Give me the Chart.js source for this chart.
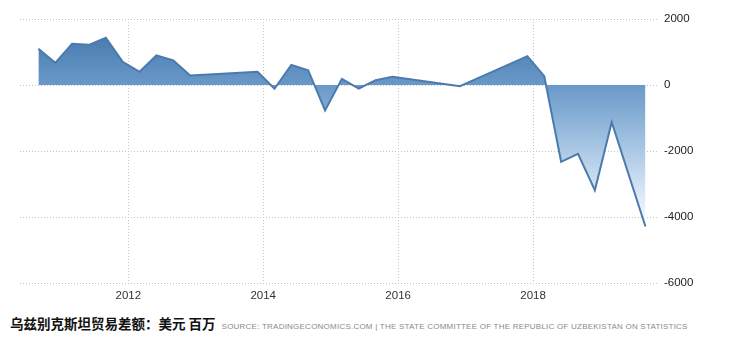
<!DOCTYPE html>
<html>
<head>
<meta charset="utf-8">
<script src="https://cdn.jsdelivr.net/npm/chart.js@4.4.1/dist/chart.umd.min.js"></script>
<style>
    html, body { margin: 0; padding: 0; background: #fff; }
    #wrap { position: relative; width: 732px; height: 340px; overflow: hidden; }
    #box { position: absolute; left: 0; top: 0; width: 732px; height: 306px; }
    #footer {
        position: absolute; left: 10px; top: 310px; white-space: nowrap;
        font-family: "Noto Sans CJK SC", sans-serif;
    }
    #footer .title { font-size: 13.5px; font-weight: bold; color: #111; }
    #footer .source {
        display: inline-block;
        font-family: "Liberation Sans", sans-serif; font-size: 8px;
        color: #8a8a8a; margin-left: 6px;
    }
</style>
</head>
<body>
<div id="wrap">
    <div id="box"><canvas id="tradeChart"></canvas></div>
    <div id="footer">
        <span class="title">乌兹别克斯坦贸易差额：美元 百万</span><span class="source" id="source">SOURCE: TRADINGECONOMICS.COM | THE STATE COMMITTEE OF THE REPUBLIC OF UZBEKISTAN ON STATISTICS</span>
    </div>
</div>
<script>
// quarterly readings (month of the quarter's last month), millions USD
const periods = ['2010-09', '2010-12', '2011-03', '2011-06', '2011-09', '2011-12',
    '2012-03', '2012-06', '2012-09', '2012-12', '2013-12', '2014-03', '2014-06',
    '2014-09', '2014-12', '2015-03', '2015-06', '2015-09', '2015-12', '2016-12',
    '2017-12', '2018-03', '2018-06', '2018-09', '2018-12', '2019-03', '2019-09'];
const balance = [1097, 673, 1248, 1218, 1430, 703,
    400, 894, 742, 288, 400, -115, 612,
    448, -773, 188, -106, 145, 248, -36,
    873, 267, -2327, -2085, -3188, -1127, -4288];
const yearTicks = [2012, 2014, 2016, 2018];
const valueTicks = [2000, 0, -2000, -4000, -6000];

// spread the source line so it runs out to the same width as the plot labels
const source = document.getElementById('source');
const natural = source.getBoundingClientRect().width;
source.style.letterSpacing = ((466 - natural) / source.textContent.length).toFixed(2) + 'px';

// 'YYYY-MM' -> fractional year, so the gaps in the series keep their width
function toYear(p) {
    const [y, m] = p.split('-').map(Number);
    return y + (m - 1) / 12;
}

const points = periods.map((p, i) => ({ x: toYear(p), y: balance[i] }));

function areaGradient(context) {
    const { chart } = context;
    const area = chart.chartArea;
    if (!area) return '#6a9aca';
    const g = chart.ctx.createLinearGradient(0, area.top, 0, area.bottom);
    g.addColorStop(0, '#3c71a8');
    g.addColorStop(0.25, '#6a99c8');
    g.addColorStop(0.45, '#9dbfe0');
    g.addColorStop(0.72, '#eaf2fb');
    g.addColorStop(1, '#ffffff');
    return g;
}

const gridStyle = { color: '#c4c4c4', lineWidth: 1, drawTicks: false };
const tickFont = { family: 'Liberation Sans', size: 11.5 };

new Chart(document.getElementById('tradeChart'), {
    type: 'line',
    data: {
        datasets: [{
            data: points,
            borderColor: '#4b7bae',
            borderWidth: 2,
            backgroundColor: areaGradient,
            fill: 'origin',
            pointRadius: 0,
            tension: 0
        }]
    },
    options: {
        responsive: true,
        maintainAspectRatio: false,
        animation: false,
        layout: { padding: { left: 20, top: 19, right: 0, bottom: 0 } },
        plugins: { legend: { display: false }, tooltip: { enabled: false } },
        scales: {
            x: {
                type: 'linear',
                min: 2010.394,
                max: 2019.838,
                grid: gridStyle,
                border: { display: false, dash: [1, 2] },
                afterBuildTicks: axis => { axis.ticks = yearTicks.map(v => ({ value: v })); },
                afterFit: axis => { axis.height = 23; },
                ticks: { font: tickFont, color: '#333', padding: 6, maxRotation: 0, callback: v => String(v) }
            },
            y: {
                position: 'right',
                min: -6000,
                max: 2000,
                grid: gridStyle,
                border: { display: false, dash: [1, 2] },
                afterBuildTicks: axis => { axis.ticks = valueTicks.map(v => ({ value: v })); },
                afterFit: axis => { axis.width = 75; },
                ticks: { font: tickFont, color: '#222', padding: 7, callback: v => String(v) }
            }
        }
    }
});
</script>
</body>
</html>
